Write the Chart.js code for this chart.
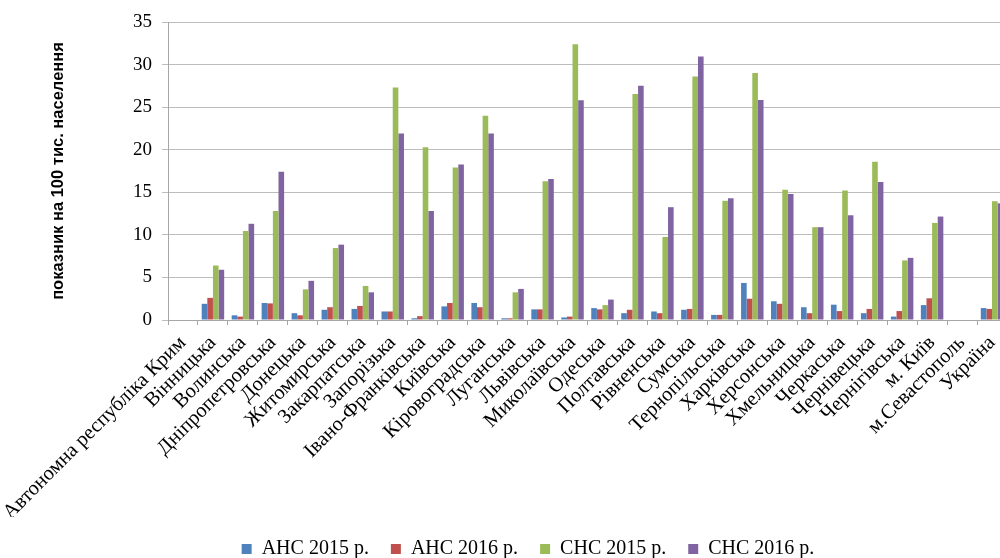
<!DOCTYPE html>
<html lang="uk">
<head>
<meta charset="utf-8">
<title>Показник на 100 тис. населення</title>
<script src="https://cdn.jsdelivr.net/npm/chart.js@4/dist/chart.umd.min.js"></script>
<style>
  html, body { margin: 0; padding: 0; background: #ffffff; overflow: hidden; }
  #wrap { width: 1010px; height: 569px; }
</style>
</head>
<body>
<div id="wrap"><canvas id="chart" width="1010" height="569"></canvas></div>
<script>
// Регіони
const regions = [
  'Автономна республіка Крим', 'Вінницька', 'Волинська', 'Дніпропетровська', 'Донецька',
  'Житомирська', 'Закарпатська', 'Запорізька', 'Івано-Франківська', 'Київська',
  'Кіровоградська', 'Луганська', 'Львівська', 'Миколаївська', 'Одеська', 'Полтавська',
  'Рівненська', 'Сумська', 'Тернопільська', 'Харківська', 'Херсонська', 'Хмельницька',
  'Черкаська', 'Чернівецька', 'Чернігівська', 'м. Київ', 'м.Севастополь', 'Україна'
];

// Показники на 100 тис. населення (null — дані відсутні)
const ahs2015 = [null, 1.9, 0.55, 2.0, 0.8, 1.2, 1.3, 1.0, 0.2, 1.6, 2.0, 0.2, 1.25, 0.3, 1.4,
  0.8, 1.0, 1.2, 0.6, 4.35, 2.2, 1.5, 1.8, 0.8, 0.4, 1.75, null, 1.4];
const ahs2016 = [null, 2.6, 0.4, 1.95, 0.55, 1.5, 1.65, 1.0, 0.45, 2.0, 1.5, 0.2, 1.25, 0.4, 1.25,
  1.2, 0.8, 1.3, 0.6, 2.5, 1.9, 0.8, 1.05, 1.3, 1.05, 2.55, null, 1.3];
const chs2015 = [null, 6.4, 10.45, 12.8, 3.6, 8.45, 4.0, 27.3, 20.3, 17.9, 24.0, 3.25, 16.3, 32.4, 1.75,
  26.55, 9.75, 28.6, 14.0, 29.0, 15.3, 10.9, 15.2, 18.6, 7.0, 11.4, null, 13.95];
const chs2016 = [null, 5.9, 11.3, 17.4, 4.6, 8.85, 3.25, 21.9, 12.8, 18.25, 21.9, 3.65, 16.55, 25.8, 2.4,
  27.5, 13.25, 30.95, 14.3, 25.85, 14.8, 10.9, 12.3, 16.2, 7.3, 12.15, null, 13.7];

// Підписи серій
const seriesNames = ['АНС 2015 р.', 'АНС 2016 р.', 'СНС 2015 р.', 'СНС 2016 р.'];
const seriesColors = ['#4f81bd', '#c0504d', '#9bbb59', '#8064a2'];
const yTicks = [0, 5, 10, 15, 20, 25, 30, 35];

Chart.defaults.font.family = '"Liberation Serif", "Times New Roman", serif';
Chart.defaults.color = '#000000';

const seriesData = [ahs2015, ahs2016, chs2015, chs2016];

new Chart(document.getElementById('chart'), {
  type: 'bar',
  data: {
    labels: regions,
    datasets: seriesData.map((d, i) => ({
      label: seriesNames[i],
      data: d,
      backgroundColor: seriesColors[i],
      borderWidth: 0,
      barPercentage: 1.0,
      categoryPercentage: 0.75
    }))
  },
  options: {
    responsive: false,
    animation: false,
    devicePixelRatio: 1,
    layout: { padding: { left: 49, right: 3, top: 22, bottom: 0 } },
    plugins: {
      tooltip: { enabled: false },
      legend: {
        position: 'bottom',
        labels: {
          boxWidth: 10,
          boxHeight: 10,
          padding: 22,
          color: '#000000',
          font: { size: 20 }
        }
      }
    },
    scales: {
      x: {
        grid: {
          offset: true,
          drawOnChartArea: false,
          tickLength: 5,
          color: '#a6a6a6'
        },
        border: { color: '#a6a6a6', width: 1 },
        ticks: {
          autoSkip: false,
          minRotation: 45,
          maxRotation: 45,
          padding: 6,
          color: '#000000',
          font: { size: 20.5 }
        },
        afterFit(scale) {
          // the long rotated labels may hang past the plot edges
          scale.height = 197;
          scale.paddingLeft = 0;
          scale.paddingRight = 0;
        }
      },
      y: {
        min: 0,
        max: 35,
        afterBuildTicks(scale) { scale.ticks = yTicks.map(v => ({ value: v })); },
        grid: {
          color: '#bdbdbd',
          tickLength: 6
        },
        border: { color: '#a6a6a6', width: 1 },
        ticks: {
          padding: 10,
          color: '#000000',
          font: { size: 19 }
        },
        title: {
          display: true,
          text: 'показник на 100 тис. населення',
          color: '#000000',
          padding: 0,
          font: { family: '"Liberation Sans", Arial, sans-serif', size: 16.5, weight: 'bold' }
        },
        afterFit(scale) { scale.width = 119; }
      }
    }
  }
});
</script>
</body>
</html>
